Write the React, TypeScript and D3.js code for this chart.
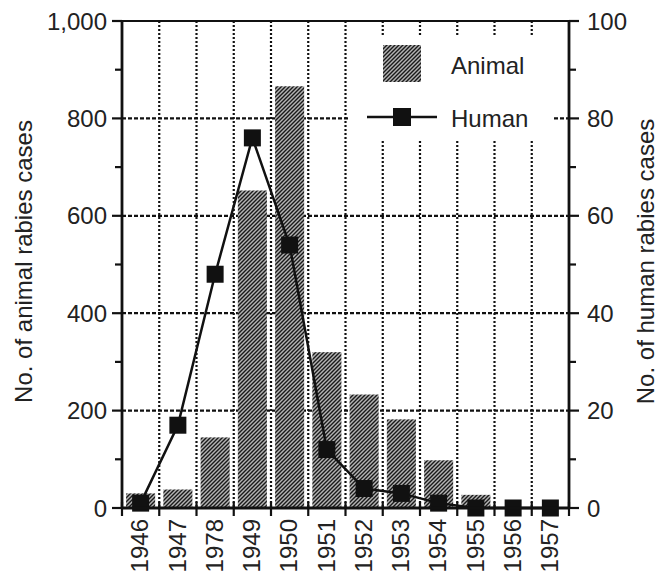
import React from "react";
import * as d3 from "d3";

const years = ["1946", "1947", "1978", "1949", "1950", "1951", "1952", "1953", "1954", "1955", "1956", "1957"];
const animalCases = [30, 38, 145, 652, 866, 320, 233, 182, 98, 27, 0, 0];
const humanCases = [1, 17, 48, 76, 54, 12, 4, 3, 1, 0, 0, 0];
const leftTicks = [0, 200, 400, 600, 800, 1000];
const rightTicks = [0, 20, 40, 60, 80, 100];

const W = 659;
const H = 571;
const left = 122;
const right = 569;
const top = 21;
const bottom = 508;
const font = "'Liberation Sans', Arial, sans-serif";

const App = () => {
  const x = d3
    .scaleBand()
    .domain(years)
    .range([left, right])
    .paddingInner(0.22)
    .paddingOuter(0.11);
  const step = x.step();
  const yL = d3.scaleLinear().domain([0, 1000]).range([bottom, top]);
  const yR = d3.scaleLinear().domain([0, 100]).range([bottom, top]);

  const minorL = d3.range(100, 1000, 200);
  const minorR = d3.range(10, 100, 20);
  const bounds = d3.range(0, years.length + 1).map((k) => left + k * step);

  const line = d3
    .line<number>()
    .x((_, i) => (x(years[i]) as number) + x.bandwidth() / 2)
    .y((d) => yR(d));

  // legend box
  const lg = { x: 348, y: 36, w: 206, h: 104 };

  return (
    <svg width={W} height={H} style={{ position: "absolute", left: 0, top: 0 }} fontFamily={font}>
      <defs>
        <pattern id="hatch" width="4" height="4" patternUnits="userSpaceOnUse">
          <rect width="4" height="4" fill="#b4b4b4" />
          <path d="M-1,1 L1,-1 M0,4 L4,0 M3,5 L5,3" stroke="#1a1a1a" strokeWidth="1.4" />
        </pattern>
      </defs>
      <rect width={W} height={H} fill="#fff" />

      {/* horizontal grid */}
      {leftTicks.slice(1, -1).map((t) => (
        <line key={"h" + t} x1={left} x2={right} y1={yL(t)} y2={yL(t)} stroke="#111" strokeWidth={2.2} strokeDasharray="4,2" />
      ))}
      {/* vertical grid */}
      {bounds.slice(1, -1).map((b, i) => (
        <line key={"v" + i} x1={b} x2={b} y1={top} y2={bottom} stroke="#111" strokeWidth={2.2} strokeDasharray="2,2" />
      ))}

      {/* bars */}
      {animalCases.map((v, i) => (
        <rect
          key={"b" + i}
          x={x(years[i])}
          y={yL(v)}
          width={x.bandwidth()}
          height={bottom - yL(v)}
          fill="url(#hatch)"
        />
      ))}

      {/* legend */}
      <rect x={lg.x} y={lg.y} width={lg.w} height={lg.h} fill="#fff" />
      <rect x={383} y={45} width={38} height={37} fill="url(#hatch)" />
      <text x={451} y={74} fontSize={24} fill="#222">Animal</text>
      <line x1={367} x2={437} y1={117} y2={117} stroke="#111" strokeWidth={2.5} />
      <rect x={393} y={108} width={18} height={18} fill="#111" />
      <text x={451} y={127} fontSize={24} fill="#222">Human</text>

      {/* human line */}
      <path d={line(humanCases) as string} fill="none" stroke="#111" strokeWidth={2.5} />
      {humanCases.map((v, i) => (
        <rect
          key={"s" + i}
          x={(x(years[i]) as number) + x.bandwidth() / 2 - 8.5}
          y={yR(v) - 8.5}
          width={17}
          height={17}
          fill="#111"
        />
      ))}

      {/* axes */}
      <line x1={left} x2={right} y1={top} y2={top} stroke="#111" strokeWidth={2.2} />
      <line x1={left} x2={right} y1={bottom} y2={bottom} stroke="#111" strokeWidth={2.8} />
      <line x1={left} x2={left} y1={top} y2={bottom} stroke="#111" strokeWidth={2.8} />
      <line x1={right} x2={right} y1={top} y2={bottom} stroke="#111" strokeWidth={2.8} />

      {leftTicks.map((t) => (
        <g key={"lt" + t}>
          <line x1={left - 10} x2={left} y1={yL(t)} y2={yL(t)} stroke="#111" strokeWidth={2.2} />
          <text x={107} y={yL(t)} dy="0.36em" textAnchor="end" fontSize={24} fill="#222">
            {d3.format(",")(t)}
          </text>
        </g>
      ))}
      {minorL.map((t) => (
        <line key={"lm" + t} x1={left - 7} x2={left} y1={yL(t)} y2={yL(t)} stroke="#111" strokeWidth={2.2} />
      ))}
      {rightTicks.map((t) => (
        <g key={"rt" + t}>
          <line x1={right} x2={right + 10} y1={yR(t)} y2={yR(t)} stroke="#111" strokeWidth={2.2} />
          <text x={587} y={yR(t)} dy="0.36em" textAnchor="start" fontSize={24} fill="#222">
            {t}
          </text>
        </g>
      ))}
      {minorR.map((t) => (
        <line key={"rm" + t} x1={right} x2={right + 7} y1={yR(t)} y2={yR(t)} stroke="#111" strokeWidth={2.2} />
      ))}
      {bounds.map((b, i) => (
        <line key={"bt" + i} x1={b} x2={b} y1={bottom - 6} y2={bottom + 8} stroke="#111" strokeWidth={2.2} />
      ))}
      {years.map((yr) => (
        <text
          key={"yl" + yr}
          transform={`translate(${(x(yr) as number) + x.bandwidth() / 2 - 1},519) rotate(-90)`}
          textAnchor="end"
          dy="0.36em"
          fontSize={24}
          fill="#222"
        >
          {yr}
        </text>
      ))}

      {/* axis titles */}
      <text transform={`translate(32,${(top + bottom) / 2 - 3}) rotate(-90)`} textAnchor="middle" fontSize={24} fill="#222">
        No. of animal rabies cases
      </text>
      <text transform={`translate(654,${(top + bottom) / 2 - 3}) rotate(-90)`} textAnchor="middle" fontSize={24} fill="#222">
        No. of human rabies cases
      </text>
    </svg>
  );
};

export default App;
